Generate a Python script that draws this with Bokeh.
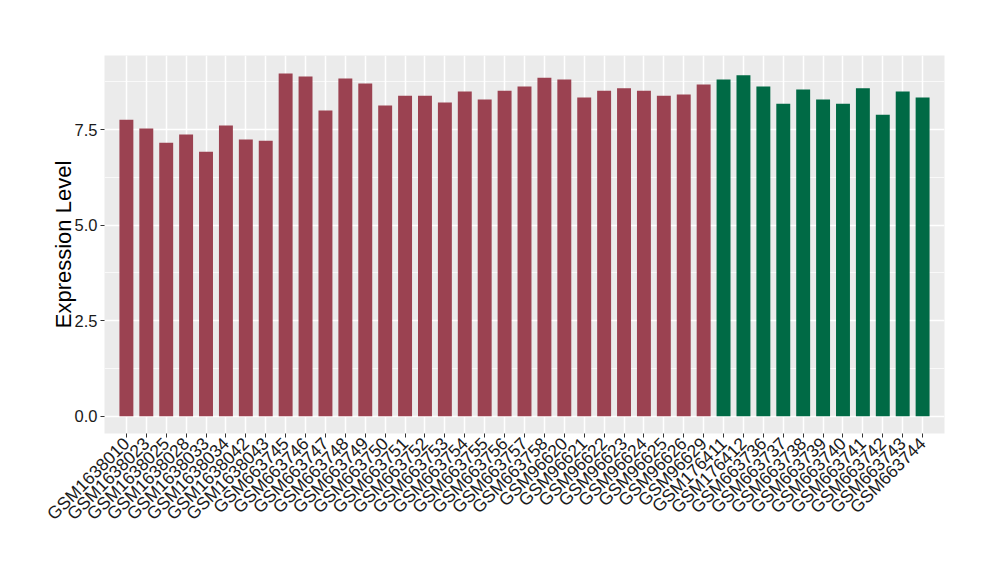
import math
from bokeh.plotting import figure
from bokeh.models import FactorRange, Range1d, FixedTicker, ColumnDataSource, CustomJSTickFormatter
from bokeh.embed import file_html
from bokeh.resources import INLINE

samples = ["GSM1638010", "GSM1638023", "GSM1638025", "GSM1638028", "GSM1638033",
           "GSM1638034", "GSM1638042", "GSM1638043", "GSM663745", "GSM663746",
           "GSM663747", "GSM663748", "GSM663749", "GSM663750", "GSM663751",
           "GSM663752", "GSM663753", "GSM663754", "GSM663755", "GSM663756",
           "GSM663757", "GSM663758", "GSM96620", "GSM96621", "GSM96622",
           "GSM96623", "GSM96624", "GSM96625", "GSM96626", "GSM96629",
           "GSM176411", "GSM176412", "GSM663736", "GSM663737", "GSM663738",
           "GSM663739", "GSM663740", "GSM663741", "GSM663742", "GSM663743",
           "GSM663744"]
values = [7.76, 7.53, 7.16, 7.37, 6.92, 7.61, 7.24, 7.21, 8.97, 8.89,
          8.00, 8.84, 8.71, 8.13, 8.39, 8.39, 8.21, 8.50, 8.29, 8.52,
          8.63, 8.86, 8.81, 8.34, 8.52, 8.58, 8.52, 8.39, 8.42, 8.68,
          8.81, 8.92, 8.63, 8.18, 8.55, 8.29, 8.18, 8.58, 7.89, 8.50,
          8.34]
groups = ["a"] * 30 + ["b"] * 11
group_colors = {"a": "#9b4251", "b": "#006a45"}
y_ticks = [0.0, 2.5, 5.0, 7.5]
y_minor = [1.25, 3.75, 6.25, 8.75]

src = ColumnDataSource(dict(x=samples, top=values,
                            color=[group_colors[g] for g in groups]))

p = figure(width=992, height=572, output_backend="svg", toolbar_location=None,
           x_range=FactorRange(*samples, range_padding=0.6,
                               range_padding_units="absolute"),
           y_range=Range1d(-0.45, 9.44))
p.min_border_left = 104
p.min_border_right = 48
p.min_border_top = 55
p.min_border_bottom = 139
p.outline_line_color = None
p.background_fill_color = "#ebebeb"
p.border_fill_color = "white"

p.vbar(x="x", top="top", width=0.7, bottom=0, source=src,
       fill_color="color", line_color=None)

p.yaxis.ticker = FixedTicker(ticks=y_ticks, minor_ticks=y_minor)
p.yaxis.formatter = CustomJSTickFormatter(code="return tick.toFixed(1);")

for ax in (p.xaxis[0], p.yaxis[0]):
    ax.axis_line_color = None
    ax.major_tick_line_color = "#333333"
    ax.major_tick_out = 4
    ax.major_tick_in = 0
    ax.minor_tick_line_color = None
    ax.major_label_text_font = "Liberation Sans"
    ax.major_label_text_color = "#1a1a1a"
    ax.major_label_standoff = 3

p.yaxis.major_label_text_font_size = "16.5px"
p.xaxis.major_label_text_font_size = "17.5px"
p.xaxis.major_label_orientation = math.pi / 4
p.yaxis.axis_label = "Expression Level"
p.yaxis.axis_label_text_font = "Liberation Sans"
p.yaxis.axis_label_text_font_size = "22px"
p.yaxis.axis_label_text_font_style = "normal"
p.yaxis.axis_label_text_color = "black"
p.yaxis.axis_label_standoff = -4

p.xgrid.grid_line_color = "white"
p.xgrid.grid_line_width = 1.5
p.ygrid.grid_line_color = "white"
p.ygrid.grid_line_width = 1.5
p.ygrid.minor_grid_line_color = "white"
p.ygrid.minor_grid_line_width = 0.7

open("out.html", "w").write(file_html(p, INLINE))
